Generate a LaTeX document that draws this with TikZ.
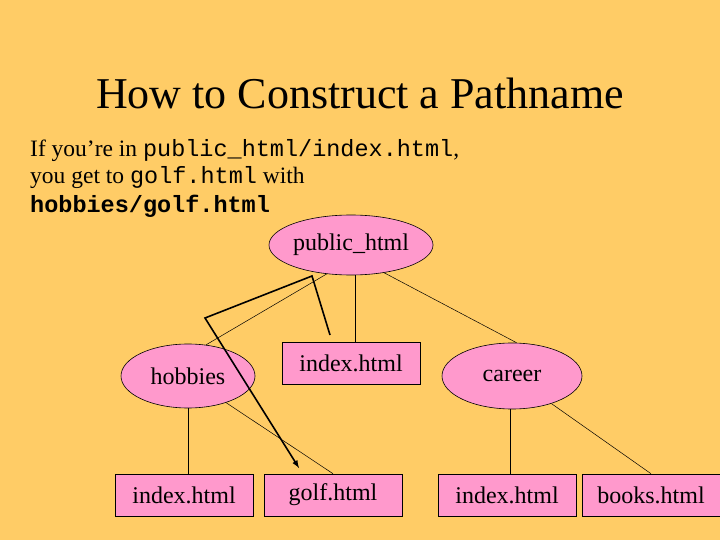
\documentclass[tikz,border=0pt]{standalone}
\usepackage{fontspec}
\setmainfont{Liberation Serif}
\setmonofont{Liberation Mono}
\usetikzlibrary{shapes.geometric}
\begin{document}
\begin{tikzpicture}[x=1pt,y=-1pt,
  pk/.style={fill=pinkc,draw=black,line width=0.6pt,font=\fontsize{24}{26}\selectfont,inner sep=0pt},
  el/.style={pk,ellipse},
  bx/.style={pk,rectangle},
  tl/.style={line width=0.5pt},
  txt/.style={anchor=base west,inner sep=0pt,font=\fontsize{23.5}{26}\selectfont}]
\definecolor{bgc}{RGB}{255,204,102}
\definecolor{pinkc}{RGB}{255,153,204}
\useasboundingbox[fill=bgc] (0,0) rectangle (720,540);
\node[inner sep=0pt,anchor=base,font=\fontsize{44}{48}\selectfont] (title) at (360,109) {How to Construct a Pathname};
\node[txt] (l1) at (30,157) {If you’re in \texttt{public\_html/index.html},};
\node[txt] (l2) at (30,184) {you get to \texttt{golf.html} with};
\node[txt] (l3) at (30,213) {\textbf{\texttt{hobbies/golf.html}}};
\node[el,minimum width=138pt,minimum height=60pt] (pub) at (351,245) {public\_html};
\node[el,minimum width=134pt,minimum height=64pt] (hob) at (188,376) {hobbies};
\node[bx,minimum width=138pt,minimum height=42pt] (idx) at (351,363) {index.html};
\node[el,minimum width=140pt,minimum height=66pt] (car) at (512,376) {career};
\node[bx,minimum width=138pt,minimum height=42pt] (b1) at (184,495) {index.html};
\node[bx,minimum width=138pt,minimum height=42pt] (b2) at (333,495) {golf.html};
\node[bx,minimum width=138pt,minimum height=42pt] (b3) at (507,495) {index.html};
\node[bx,minimum width=138pt,minimum height=42pt] (b4) at (651,495) {books.html};
\draw[tl] (pub.230) -- (hob.60);
\draw[tl] (pub.south) ++(4,0) coordinate (ps) -- (ps |- idx.north);
\draw[tl] (pub.-40) -- (car.82);
\draw[tl] (hob.south) -- (hob.south |- b1.north);
\draw[tl] (hob.-35) -- (b2.north);
\draw[tl] (car.south) ++(-2,0) coordinate (cs) -- (cs |- b3.north);
\draw[tl] (car.-35) -- (b4.north);
\coordinate (a0) at (330,335);
\coordinate (a1) at (312,276);
\coordinate (a2) at (205,318);
\coordinate (a3) at (299,468);
\draw[line width=1.6pt,-latex] (a0) -- (a1) -- (a2) -- (a3);
\end{tikzpicture}
\end{document}
